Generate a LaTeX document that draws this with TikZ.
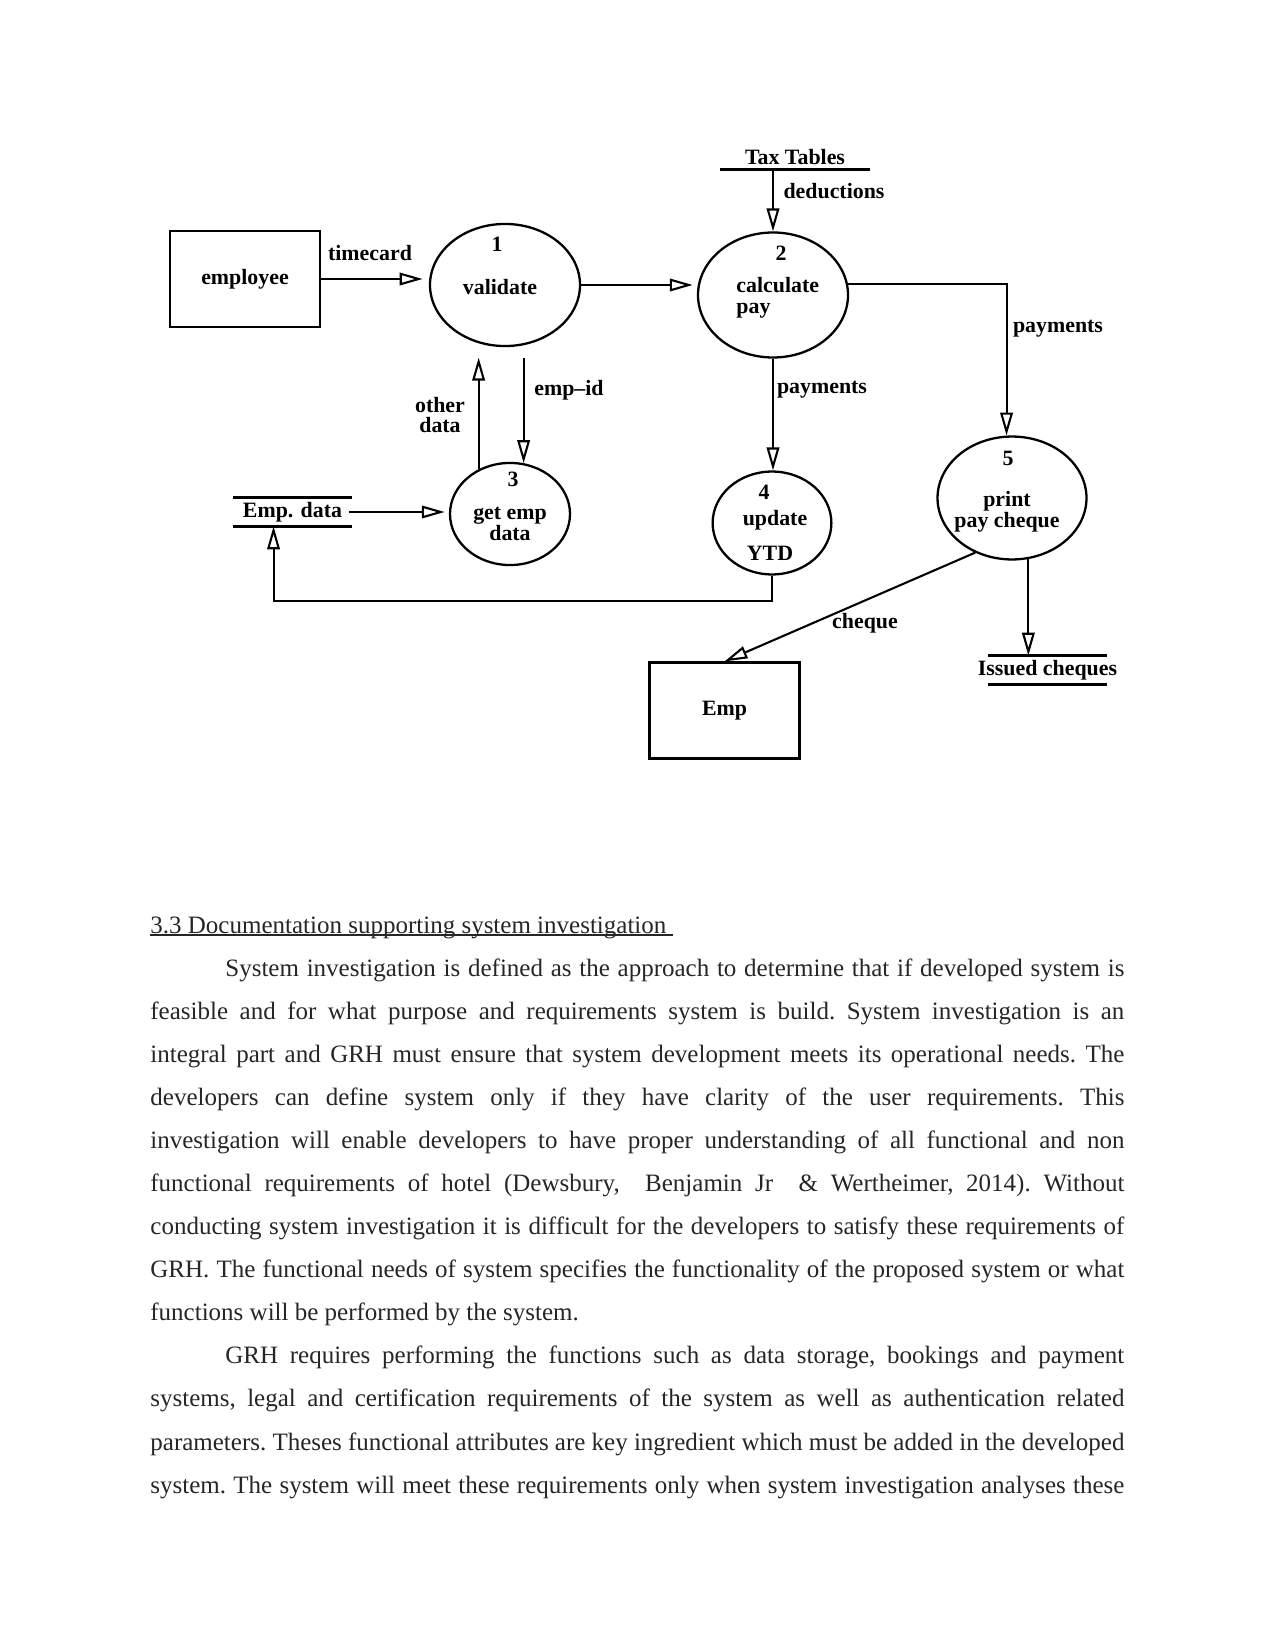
\documentclass[tikz,border=0pt]{standalone}
\usepackage{fontspec}
\setmainfont{Liberation Serif}
\usepackage{tikz}
\usetikzlibrary{shapes.geometric,arrows.meta}

\newcommand\dfdfont{\bfseries\fontsize{10.5}{10}\selectfont}
\newcommand\headline[1]{\setbox0\hbox{#1}\rlap{\rule[-1.2pt]{\wd0}{0.6pt}}\box0}

\begin{document}
\begin{tikzpicture}[
  x=0.48pt, y=-0.48pt,
  % bubbles, outside entities and stores
  proc/.style={ellipse,draw=black,line width=1.1pt,inner sep=0pt},
  ent/.style={rectangle,draw=black,line width=1.1pt,minimum width=72pt,minimum height=46pt,font=\dfdfont},
  store/.style={inner sep=0pt,minimum height=13.4pt,font=\dfdfont},
  storeline/.style={draw=black,line width=1.1pt},
  lbl/.style={inner sep=0pt,font=\dfdfont},
  flow/.style={draw=black,line width=1pt,-{Triangle[open,length=11pt,width=6pt]}},
  doc/.style={inner sep=0pt,text width=467.5pt,align=justify,text=black!85,
    font=\fontsize{12}{20.68}\selectfont}
]
\useasboundingbox (0,0) rectangle (1275,1650);

\node[ent] (emply) at (245,279) {employee};      % left
\node[ent] (empbox) at (724.5,710.5) {Emp};      % bottom

\node[proc,minimum width=72pt,minimum height=58.6pt] (P1) at (505,285) {};
\node[proc,minimum width=72pt,minimum height=60pt] (P2) at (773,295) {};
\node[proc,minimum width=57.6pt,minimum height=49pt] (P3) at (510,514) {};
\node[proc,minimum width=57pt,minimum height=49.4pt] (P4) at (772,523) {};
\node[proc,minimum width=71.5pt,minimum height=59pt] (P5) at (1012,498) {};

% bubble texts
\node[lbl] (n1) at (497,244) {1};
\node[lbl] (t1) at (500,287) {validate};
\node[lbl] (n2) at (781,253) {2};
\node[lbl,align=left,anchor=west] (t2) at (736,298) {calculate\\pay};
\node[lbl] (n3) at (513,479) {3};
\node[lbl,align=center] (t3) at (510,524) {get emp\\data};
\node[lbl] (n4) at (764,492) {4};
\node[lbl] (t4) at (775,520) {update};
\node[lbl] (t4b) at (770,553) {YTD};
\node[lbl] (n5) at (1008,458) {5};
\node[lbl,align=center] (t5) at (1007,512) {print\\pay cheque};

% stores
\node[store,minimum height=11.5pt] (taxtab) at (795,157) {Tax Tables};
\draw[storeline] ([xshift=-35.8pt]taxtab.south) -- ([xshift=35.8pt]taxtab.south);
\node[store] (edata) at (292.5,512) {Emp. data};
\draw[storeline] ([xshift=-28.6pt]edata.north) -- ([xshift=28.6pt]edata.north);
\draw[storeline] ([xshift=-28.6pt]edata.south) -- ([xshift=28.6pt]edata.south);
\node[store] (issued) at (1047.5,670) {Issued cheques};
\draw[storeline] ([xshift=-28.6pt]issued.north) -- ([xshift=28.6pt]issued.north);
\draw[storeline] ([xshift=-28.6pt]issued.south) -- ([xshift=28.6pt]issued.south);

% flows
\draw[flow,shorten >=3pt] (emply.east) -- (emply.east -| P1.west);
\draw[flow,shorten >=2pt] (P1.east) -- (P1.east -| P2.west);
\draw[flow] (taxtab.south -| P2.north) -- (P2.north);
\draw[flow] (P2.8) -| (P5.95);
\draw[flow] (P2.south) -- (P2.south |- P4.north);
\draw[flow] (P4.south) -- ++(0,25) -| ([xshift=-9.1pt]edata.south);
\draw[flow,shorten <=3pt,shorten >=2pt] (edata.east) -- (edata.east -| P3.west);
\draw[flow,shorten >=5pt] (P3.125) -- (P3.125 |- P1.south);
\draw[flow,shorten <=5pt] (P1.south -| P3.75) -- (P3.75);
\draw[flow] (P5.236) -- (empbox.north);
\draw[flow] (P5.285) -- (P5.285 |- issued.north);

% flow labels
\node[lbl] (ltime) at (370,253) {timecard};
\node[lbl] (lded) at (834,191) {deductions};
\node[lbl] (lpay1) at (1058,329) {payments};
\node[lbl] (lpay2) at (822,390) {payments};
\node[lbl] (lid) at (569,390) {emp--id};
\node[lbl,align=center] (lother) at (440,415) {other\\data};
\node[lbl] (lcheq) at (865,623) {cheque};

% page text
\node[doc,anchor=base west] (body) at (150,933) {%
\setlength\parindent{36pt}\tolerance=9999\hyphenpenalty=10000\hbadness=10000\frenchspacing
\noindent\headline{3.3 Documentation supporting system investigation\ }\par
System investigation is defined as the approach to determine that if developed system is\linebreak
feasible and for what purpose and requirements system is build. System investigation is an\linebreak
integral part and GRH must ensure that system development meets its operational needs. The\linebreak
developers can define system only if they have clarity of the user requirements. This\linebreak
investigation will enable developers to have proper understanding of all functional and non\linebreak
functional requirements of hotel (Dewsbury,\ \ Benjamin Jr\ \ \& Wertheimer, 2014). Without\linebreak
conducting system investigation it is difficult for the developers to satisfy these requirements of\linebreak
GRH. The functional needs of system specifies the functionality of the proposed system or what\linebreak
functions will be performed by the system.\par
GRH requires performing the functions such as data storage, bookings and payment\linebreak
systems, legal and certification requirements of the system as well as authentication related\linebreak
parameters. Theses functional attributes are key ingredient which must be added in the developed\linebreak
system. The system will meet these requirements only when system investigation analyses these{\parfillskip=0pt\par}};

\end{tikzpicture}
\end{document}
